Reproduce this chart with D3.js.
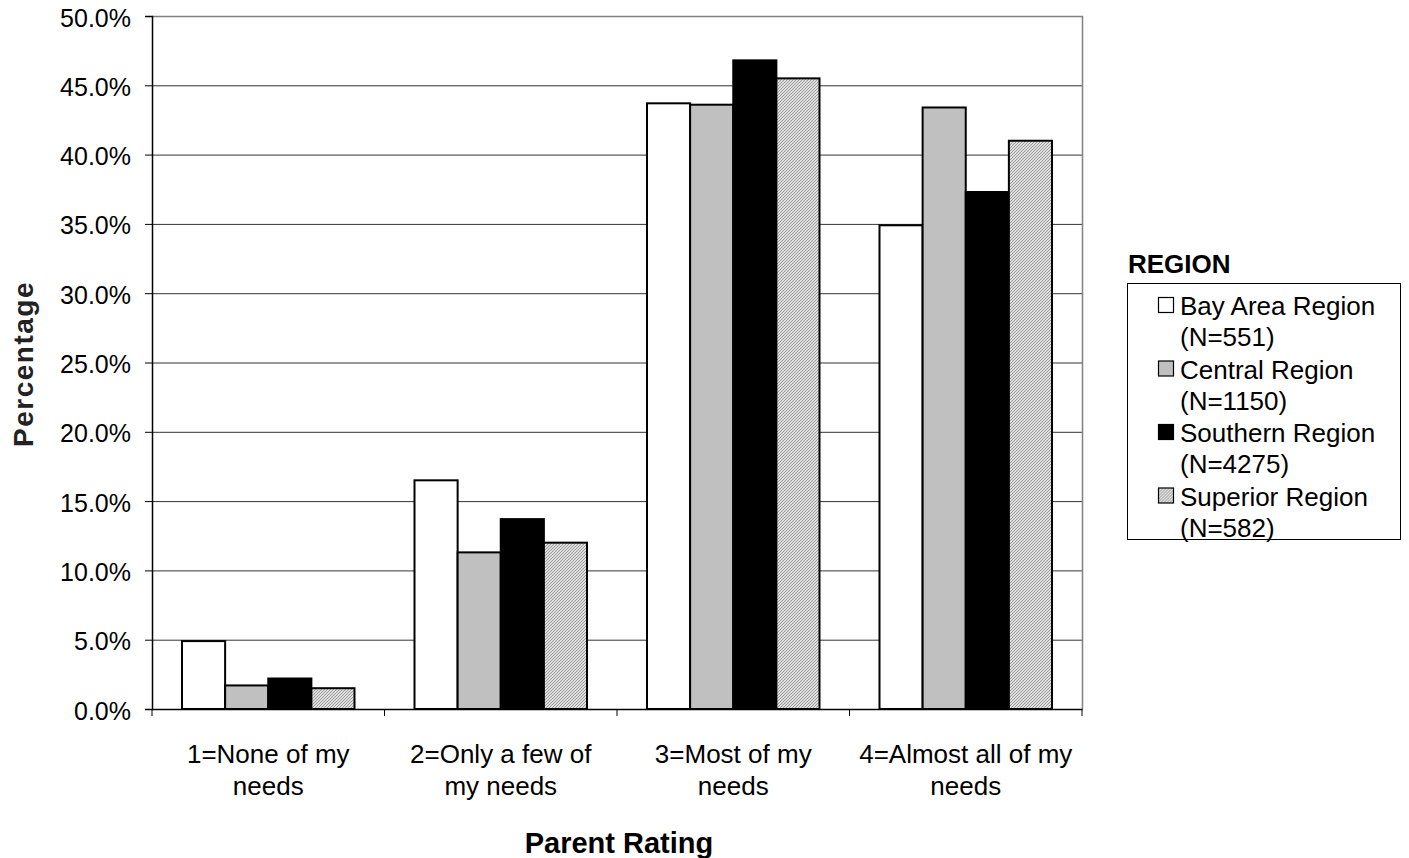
<!DOCTYPE html>
<html lang="en">
<head>
    <meta charset="UTF-8">
    <title>Parent Rating by Region</title>
    <style>
        body { margin: 0; background: #fff; }
        svg text { font-family: "Liberation Sans", Arial, sans-serif; fill: #000; }
        .grid line { stroke: #333; stroke-width: 1; }
        .tick text { font-size: 25px; }
    </style>
    <script src="https://d3js.org/d3.v7.min.js"></script>
</head>
<body>
<div id="chart"></div>
<script>
// data
const categories = ["1=None of my needs", "2=Only a few of my needs", "3=Most of my needs", "4=Almost all of my needs"];
const categoryLines = [["1=None of my", "needs"], ["2=Only a few of", "my needs"], ["3=Most of my", "needs"], ["4=Almost all of my", "needs"]];
const seriesNames = ["Bay Area Region", "Central Region", "Southern Region", "Superior Region"];
const seriesN = ["(N=551)", "(N=1150)", "(N=4275)", "(N=582)"];
const bayArea = [4.9, 16.5, 43.7, 34.9];
const central = [1.7, 11.3, 43.6, 43.4];
const southern = [2.2, 13.7, 46.8, 37.3];
const superior = [1.5, 12.0, 45.5, 41.0];
const yTicks = [0, 5, 10, 15, 20, 25, 30, 35, 40, 45, 50];

const series = [bayArea, central, southern, superior];
const fills = ["#ffffff", "#c0c0c0", "#000000", "url(#hatch)"];

const W = 1409, H = 858;
const plot = {left: 152, right: 1082, top: 16, bottom: 709};

const svg = d3.select("#chart").append("svg")
    .attr("width", W).attr("height", H);

// hatched fill for Superior Region
const pat = svg.append("defs").append("pattern")
    .attr("id", "hatch")
    .attr("patternUnits", "userSpaceOnUse")
    .attr("width", 3).attr("height", 3);
pat.append("rect").attr("width", 3).attr("height", 3).attr("fill", "#dcdcdc");
pat.append("path").attr("d", "M0,3 L3,0 M-1,1 L1,-1 M2,4 L4,2")
    .attr("stroke", "#a0a0a0").attr("stroke-width", 1);

const x = d3.scaleBand().domain(categories).range([plot.left, plot.right]).paddingInner(0).paddingOuter(0);
const inner = d3.scaleBand().domain(d3.range(4)).range([30, x.bandwidth() - 30]);
const y = d3.scaleLinear().domain([0, 50]).range([plot.bottom, plot.top]);

// gridlines
svg.append("g").attr("class", "grid")
    .selectAll("line").data(yTicks.filter(d => d > 0 && d < 50)).enter().append("line")
    .attr("x1", plot.left).attr("x2", plot.right)
    .attr("y1", d => y(d) + 0.5).attr("y2", d => y(d) + 0.5);

// plot border top/right
svg.append("path")
    .attr("d", `M${plot.left},${plot.top + 0.5}H${plot.right + 0.5}V${plot.bottom}`)
    .attr("fill", "none").attr("stroke", "#808080").attr("stroke-width", 1.5);

// bars
series.forEach((vals, si) => {
    svg.append("g").selectAll("rect").data(vals).enter().append("rect")
        .attr("x", (d, i) => x(categories[i]) + inner(si))
        .attr("y", d => y(d))
        .attr("width", inner.bandwidth())
        .attr("height", d => y(0) - y(d))
        .attr("fill", fills[si])
        .attr("stroke", "#000").attr("stroke-width", 2);
});

// y axis
const yAxis = svg.append("g")
    .attr("transform", `translate(${plot.left},0)`)
    .call(d3.axisLeft(y).tickValues(yTicks).tickSize(7).tickPadding(14)
        .tickFormat(d => d.toFixed(1) + "%"));
yAxis.attr("font-family", null).attr("font-size", null);
yAxis.select(".domain").attr("stroke", "#000").attr("stroke-width", 1.5);
yAxis.selectAll(".tick line").attr("stroke", "#000");
yAxis.selectAll(".tick text").attr("dy", "0.4em");

// x axis
const xAxis = svg.append("g")
    .attr("transform", `translate(0,${plot.bottom})`)
    .call(d3.axisBottom(x).tickSize(0).tickFormat(""));
xAxis.select(".domain").attr("stroke", "#000").attr("stroke-width", 1.5);
xAxis.selectAll(".tick").remove();
svg.append("g").selectAll("line")
    .data(categories.map(c => x(c)).concat([plot.right])).enter().append("line")
    .attr("x1", d => d).attr("x2", d => d)
    .attr("y1", plot.bottom).attr("y2", plot.bottom + 7)
    .attr("stroke", "#000");

// category labels
const catText = svg.append("g").selectAll("text").data(categories).enter().append("text")
    .attr("x", d => x(d) + x.bandwidth() / 2)
    .attr("y", 763)
    .attr("text-anchor", "middle")
    .style("font-size", "26px");
catText.selectAll("tspan").data((d, i) => categoryLines[i]).enter().append("tspan")
    .attr("x", function () { return d3.select(this.parentNode).attr("x"); })
    .attr("dy", (d, i) => i === 0 ? 0 : 32)
    .text(d => d);

// axis titles
svg.append("text")
    .attr("x", (plot.left + plot.right) / 2 + 2).attr("y", 853)
    .attr("text-anchor", "middle")
    .style("font-size", "29px").style("font-weight", "bold")
    .text("Parent Rating");

svg.append("text")
    .attr("transform", `translate(33,364) rotate(-90)`)
    .attr("text-anchor", "middle")
    .style("font-size", "28px").style("font-weight", "bold").style("fill", "#222")
    .style("letter-spacing", "1.5px")
    .text("Percentage");

// legend
svg.append("text")
    .attr("x", 1128).attr("y", 273)
    .style("font-size", "26px").style("font-weight", "bold")
    .text("REGION");

svg.append("rect")
    .attr("x", 1127.5).attr("y", 283.5).attr("width", 273).attr("height", 256)
    .attr("fill", "#fff").attr("stroke", "#000").attr("stroke-width", 1);

const leg = svg.append("g").selectAll("g").data(seriesNames).enter().append("g")
    .attr("transform", (d, i) => `translate(0,${i * 63.5})`);
leg.append("rect")
    .attr("x", 1158.5).attr("y", 297.5).attr("width", 15).attr("height", 15)
    .attr("fill", (d, i) => fills[i]).attr("stroke", "#000").attr("stroke-width", 1.2);
leg.append("text")
    .attr("x", 1180).attr("y", 315)
    .style("font-size", "26px")
    .text(d => d);
leg.append("text")
    .attr("x", 1180).attr("y", 346)
    .style("font-size", "26px")
    .text((d, i) => seriesN[i]);
</script>
</body>
</html>
